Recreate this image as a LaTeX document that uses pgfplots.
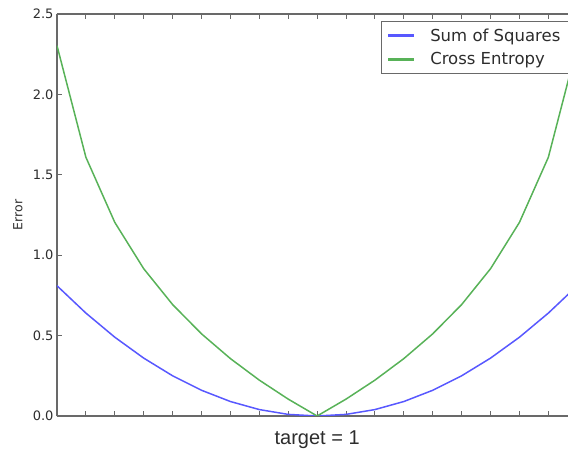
\documentclass[border=0pt]{standalone}
\usepackage{fontspec}
\setmainfont{DejaVu Sans}
\newfontfamily\helv{Liberation Sans}
\usepackage{pgfplots}
\pgfplotsset{compat=1.18}
\definecolor{sosblue}{RGB}{88,88,255}
\definecolor{cegreen}{RGB}{88,178,88}
\definecolor{spine}{RGB}{105,105,105}
\definecolor{txt}{RGB}{45,45,45}

\begin{document}
\begin{tikzpicture}[x=1bp,y=1bp]
\begin{axis}[
  at={(0,0)}, anchor=south west,
  scale only axis, width=511bp, height=402bp,
  xmin=0.1, xmax=1.868, ymin=0, ymax=2.5,
  axis y line*=left,
  axis line style={draw=spine, line width=1.5bp},
  xtick={0.1,0.2,0.3,0.4,0.5,0.6,0.7,0.8,0.9,1.0,1.1,1.2,1.3,1.4,1.5,1.6,1.7,1.8,1.9},
  xticklabels={},
  xtick pos=both,
  ytick={0,0.5,1.0,1.5,2.0,2.5},
  tick align=inside,
  major tick length=5bp,
  tick style={draw=spine, line width=1bp},
  /pgf/number format/assume math mode=true,
  yticklabel style={/pgf/number format/fixed, /pgf/number format/fixed zerofill,
    /pgf/number format/precision=1, font=\fontsize{13bp}{15bp}\selectfont, text=txt},
  ylabel={Error},
  every axis y label/.style={at={(axis description cs:0,0.5)}, xshift=-39bp,
    rotate=90, anchor=center, font=\fontsize{12.5bp}{15bp}\selectfont, text=txt},
  xlabel={target = 1},
  every axis x label/.style={at={(axis cs:1,0)}, anchor=center, yshift=-24bp,
    font=\helv\fontsize{20bp}{24bp}\selectfont, text=txt},
  legend style={at={(1,1)}, anchor=north east, xshift=1bp, yshift=-7bp,
    draw=spine, line width=1.3bp, font=\fontsize{16.5bp}{20bp}\selectfont,
    text=txt, inner xsep=6bp, inner ysep=5bp, row sep=6bp, column sep=14bp,
    nodes={inner sep=2bp}},
  legend cell align=left,
  legend image code/.code={\fill[#1] (0bp,-0.6bp) rectangle (25bp,0.6bp);},
]
\addplot[sosblue, line width=1.5bp] coordinates {
  (0.1,0.81) (0.2,0.64) (0.3,0.49) (0.4,0.36) (0.5,0.25) (0.6,0.16) (0.7,0.09)
  (0.8,0.04) (0.9,0.01) (1.0,0.0) (1.1,0.01) (1.2,0.04) (1.3,0.09) (1.4,0.16)
  (1.5,0.25) (1.6,0.36) (1.7,0.49) (1.8,0.64) (1.9,0.81)};
\addlegendentry{Sum of Squares}
\addplot[cegreen, line width=1.5bp] coordinates {
  (0.1,2.303) (0.2,1.609) (0.3,1.204) (0.4,0.916) (0.5,0.693) (0.6,0.511)
  (0.7,0.357) (0.8,0.223) (0.9,0.105) (1.0,0.0) (1.1,0.105) (1.2,0.223)
  (1.3,0.357) (1.4,0.511) (1.5,0.693) (1.6,0.916) (1.7,1.204) (1.8,1.609)
  (1.9,2.303)};
\addlegendentry{Cross Entropy}
\end{axis}
\pgfresetboundingbox
\path (-57bp,-36bp) rectangle (511bp,416bp);
\end{tikzpicture}
\end{document}
